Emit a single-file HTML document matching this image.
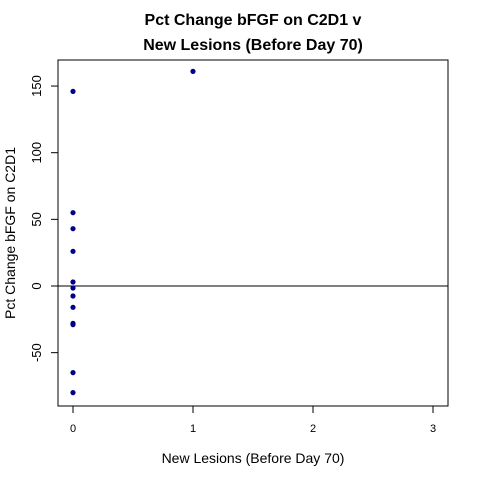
<!DOCTYPE html>
<html><head><meta charset="utf-8"><style>body{margin:0;background:#fff}svg{display:block;font-family:"Liberation Sans",Arial,sans-serif}</style></head>
<body>
<svg id="c" width="480" height="480">
<text x="253" y="25" text-anchor="middle" font-size="16" font-weight="bold">Pct Change bFGF on C2D1 v</text>
<text x="253" y="50" text-anchor="middle" font-size="16" font-weight="bold">New Lesions (Before Day 70)</text>
<rect x="58" y="60" width="390" height="346" fill="none" stroke="#000"/>
<text x="253" y="463" text-anchor="middle" font-size="14">New Lesions (Before Day 70)</text>
<text transform="translate(15,233) rotate(-90)" text-anchor="middle" font-size="14">Pct Change bFGF on C2D1</text>
<g id="ax"></g><g id="pts"></g>
</svg>
<script>
const xTicks=[0,1,2,3];
const yTicks=[-50,0,50,100,150];
const xVals=[1,0,0,0,0,0,0,0,0,0,0,0,0];
const yVals=[161,146,55,43,26,3,-1.5,-7.5,-16,-28,-29,-65,-80];
const NS="http://www.w3.org/2000/svg";
const X=v=>73+v*120, Y=v=>286-v*1.333;
const ax=document.getElementById('ax'), pts=document.getElementById('pts');
function mk(t,a,p){const e=document.createElementNS(NS,t);for(const k in a)e.setAttribute(k,a[k]);p.appendChild(e);return e;}
const xl=mk('line',{x1:X(0),x2:X(3),y1:406,y2:406,stroke:'#000'},ax);


xTicks.forEach(v=>{
 const l=mk('line',{x1:X(v),x2:X(v),y1:406,y2:413,stroke:'#000'},ax);
 
 
 const t=mk('text',{x:X(v),y:432,'text-anchor':'middle','font-size':11},ax);t.textContent=v;
 
 
});
const yl=mk('line',{x1:58,x2:58,y1:Y(-50),y2:Y(150),stroke:'#000'},ax);


yTicks.forEach(v=>{
 const l=mk('line',{x1:51,x2:58,y1:Y(v),y2:Y(v),stroke:'#000'},ax);
 
 
 const t=mk('text',{x:0,y:0,'text-anchor':'middle','font-size':13,transform:`translate(41,${Y(v)}) rotate(-90)`},ax);t.textContent=v;
 
 
});
const z=mk('line',{x1:58,x2:448,y1:Y(0),y2:Y(0),stroke:'#000'},ax);


xVals.forEach((v,i)=>{
 const c=mk('circle',{cx:X(v),cy:Y(yVals[i]),r:2.6,fill:'#00008b'},pts);
 
 
});
</script>
</body></html>
